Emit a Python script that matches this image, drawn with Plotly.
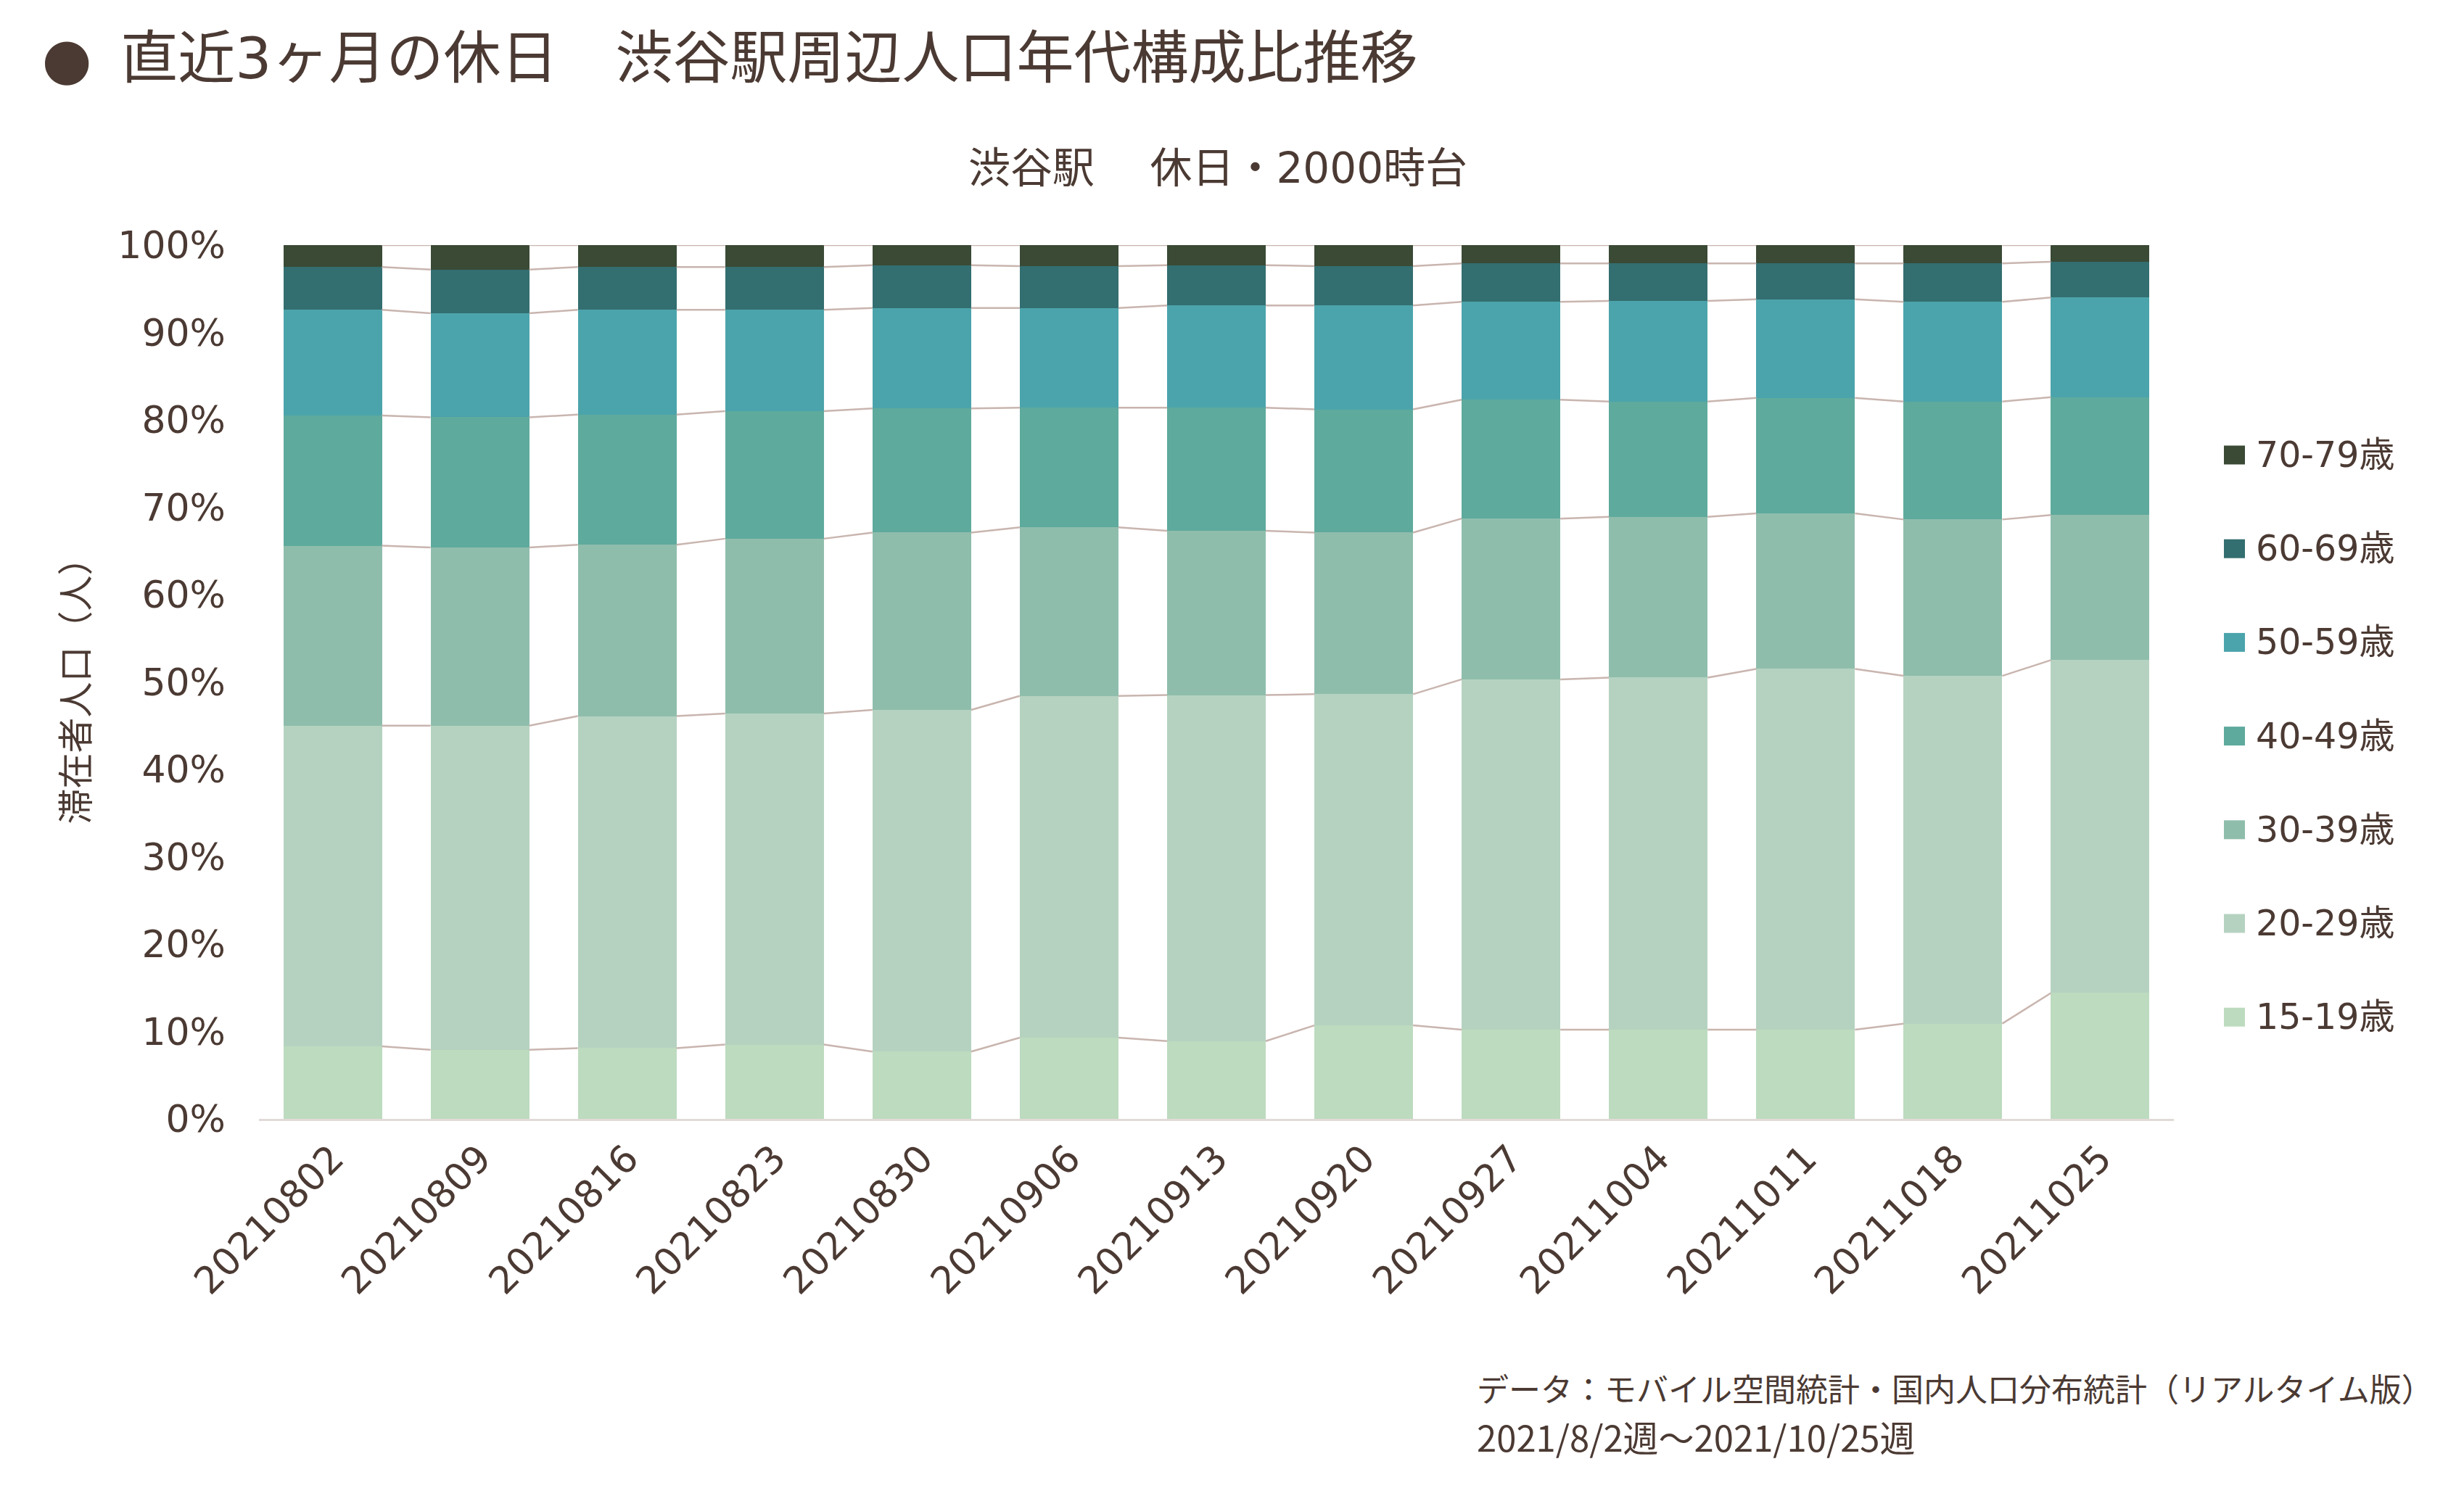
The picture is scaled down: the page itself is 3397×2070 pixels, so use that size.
import plotly.graph_objects as go

weeks = ["20210802", "20210809", "20210816", "20210823", "20210830", "20210906", "20210913",
         "20210920", "20210927", "20211004", "20211011", "20211018", "20211025"]

age_15_19 = [8.3, 7.9, 8.1, 8.5, 7.7, 9.3, 8.9, 10.7, 10.2, 10.2, 10.2, 10.9, 14.4]
age_20_29 = [36.7, 37.1, 38.0, 37.9, 39.1, 39.1, 39.6, 37.9, 40.1, 40.3, 41.3, 39.8, 38.1]
age_30_39 = [20.6, 20.4, 19.6, 20.0, 20.3, 19.3, 18.8, 18.5, 18.4, 18.4, 17.8, 17.9, 16.6]
age_40_49 = [14.9, 14.9, 14.9, 14.6, 14.2, 13.7, 14.1, 14.1, 13.6, 13.2, 13.2, 13.5, 13.5]
age_50_59 = [12.1, 11.9, 12.0, 11.6, 11.5, 11.4, 11.7, 11.9, 11.2, 11.5, 11.3, 11.4, 11.4]
age_60_69 = [4.9, 5.0, 4.9, 4.9, 4.9, 4.8, 4.6, 4.5, 4.4, 4.3, 4.1, 4.4, 4.1]
age_70_79 = [2.5, 2.8, 2.5, 2.5, 2.3, 2.4, 2.3, 2.4, 2.1, 2.1, 2.1, 2.1, 1.9]

series_names = ["15-19歳", "20-29歳", "30-39歳", "40-49歳", "50-59歳", "60-69歳", "70-79歳"]
series_values = [age_15_19, age_20_29, age_30_39, age_40_49, age_50_59, age_60_69, age_70_79]
series_colors = ["#BDDBBF", "#B5D2C0", "#8FBDAC", "#5EAA9D", "#4BA4AB", "#336E70", "#3A4A35"]

TEXT = "#4B3A33"
FONT = "DejaVu Sans, Noto Sans CJK JP"
CJK = "Noto Sans CJK JP"
BAR_W = 0.67

W, H = 3397, 2070
ML, MR, MT, MB = 357, 400, 338, 527
PW, PH = W - ML - MR, H - MT - MB

def px_x(x):
    return (x - ML) / PW

def px_y(y):
    return 1 - (y - MT) / PH

xs = list(range(len(weeks)))
fig = go.Figure()

# normalise to 100% stacks
totals = [sum(s[i] for s in series_values) for i in xs]
pct = [[s[i] / totals[i] * 100 for i in xs] for s in series_values]

for k, (name, vals, col) in enumerate(zip(series_names, pct, series_colors)):
    fig.add_trace(go.Bar(
        x=xs, y=vals, name=name, marker=dict(color=col, line=dict(width=0)),
        width=BAR_W, showlegend=False,
    ))

# series (connector) lines between bars
cum = [0.0] * len(xs)
for k in range(len(pct)):
    cum = [cum[i] + pct[k][i] for i in xs]
    lx, ly = [], []
    for i in range(len(xs) - 1):
        lx += [xs[i] + BAR_W / 2, xs[i + 1] - BAR_W / 2, None]
        ly += [cum[i], cum[i + 1], None]
    fig.add_trace(go.Scatter(x=lx, y=ly, mode="lines", line=dict(color="#C9B5AF", width=2.5),
                             showlegend=False, hoverinfo="skip"))

fig.update_layout(
    width=W, height=H,
    barmode="stack",
    paper_bgcolor="white", plot_bgcolor="white",
    font=dict(family=FONT, color=TEXT, size=44),
    margin=dict(l=ML, r=MR, t=MT, b=MB, autoexpand=False),
    title=dict(text="●\u2002直近3ヶ月の休日　渋谷駅周辺人口年代構成比推移", xref="container", yref="container",
               x=0.017, y=0.961, xanchor="left", yanchor="middle",
               font=dict(family=FONT, size=79, color=TEXT)),
    showlegend=False,
)

fig.update_xaxes(
    tickmode="array", tickvals=xs, ticktext=weeks, tickangle=-45,
    range=[-0.5, len(xs) - 0.5], showgrid=False, zeroline=False,
    showline=True, linecolor="#E2DAD8", linewidth=3, ticks="",
    tickfont=dict(size=52, color=TEXT),
)
fig.update_yaxes(
    range=[0, 100], dtick=10, ticksuffix="%", showgrid=False, zeroline=False,
    showline=False, ticks="", ticklabelstandoff=45, tickfont=dict(size=52, color=TEXT),
    title=dict(text="滞在者人口（人）", font=dict(size=49, color=TEXT), standoff=24),
)

# legend (drawn top-down: 70-79 at top)
leg_top, leg_step = 627.5, 129.2
for j, k in enumerate(reversed(range(len(series_names)))):
    yc = leg_top + j * leg_step
    fig.add_shape(type="rect", xref="paper", yref="paper",
                  x0=px_x(3066), x1=px_x(3095), y0=px_y(yc - 13), y1=px_y(yc + 13),
                  fillcolor=series_colors[k], line=dict(width=0))
    fig.add_annotation(text=series_names[k], xref="paper", yref="paper",
                       x=px_x(3108), y=px_y(yc), xanchor="left", yanchor="middle",
                       showarrow=False, font=dict(size=49, color=TEXT))

fig.add_annotation(text="渋谷駅　 休日・2000時台", xref="paper", yref="paper",
                   x=px_x(1679), y=px_y(232), xanchor="center", yanchor="middle",
                   showarrow=False, font=dict(size=58, color=TEXT))
fig.add_annotation(text="データ：モバイル空間統計・国内人口分布統計（リアルタイム版）",
                   xref="paper", yref="paper", x=px_x(2034), y=px_y(1914),
                   xanchor="left", yanchor="middle", showarrow=False,
                   font=dict(family=CJK, size=44, color=TEXT))
fig.add_annotation(text="2021/8/2週～2021/10/25週",
                   xref="paper", yref="paper", x=px_x(2034), y=px_y(1980),
                   xanchor="left", yanchor="middle", showarrow=False,
                   font=dict(family=CJK, size=49, color=TEXT))

fig.write_html("out.html")
